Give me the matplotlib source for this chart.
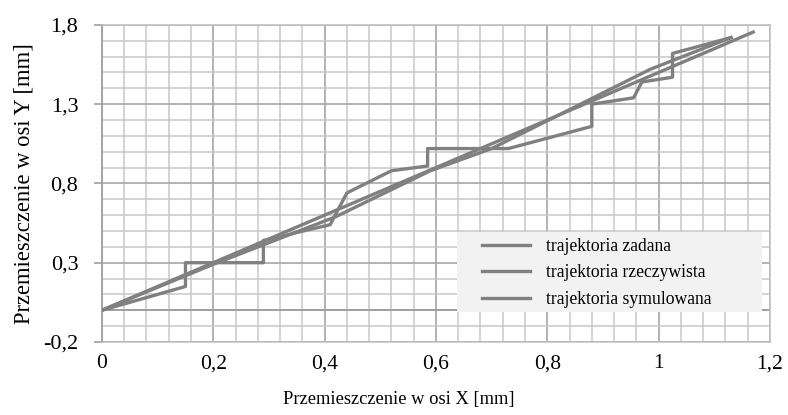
import numpy as np
import matplotlib.pyplot as plt
from matplotlib.ticker import MultipleLocator
from matplotlib.patches import Rectangle

plt.rcParams['font.family'] = ['Liberation Serif', 'DejaVu Serif']

# trajektoria zadana (prosta)
x_zad = [0, 1.17]
y_zad = [0, 1.755]

# trajektoria rzeczywista (schodkowa)
x_rze = [0, 0.15, 0.15, 0.29, 0.29, 0.41, 0.44, 0.52, 0.585, 0.585, 0.73,
         0.88, 0.88, 0.955, 0.97, 1.025, 1.025, 1.13]
y_rze = [0, 0.15, 0.30, 0.30, 0.44, 0.54, 0.74, 0.88, 0.91, 1.02, 1.02,
         1.16, 1.30, 1.34, 1.44, 1.47, 1.62, 1.72]

# trajektoria symulowana
x_sym = [0, 0.2, 0.42, 0.59, 0.7, 0.985, 1.13]
y_sym = [0, 0.29, 0.59, 0.88, 1.02, 1.52, 1.72]

x_ticks = [0, 0.2, 0.4, 0.6, 0.8, 1.0, 1.2]
x_labels = ['0', '0,2', '0,4', '0,6', '0,8', '1', '1,2']
y_ticks = [-0.2, 0.3, 0.8, 1.3, 1.8]
y_labels = ['-0,2', '0,3', '0,8', '1,3', '1,8']

fig = plt.figure(figsize=(7.88, 4.15), dpi=100)
ax = fig.add_axes([0.1294, 0.176, 0.8477, 0.764])

ax.set_xlim(0, 1.2)
ax.set_ylim(-0.2, 1.8)

# siatka
ax.xaxis.set_minor_locator(MultipleLocator(0.04))
ax.yaxis.set_minor_locator(MultipleLocator(0.1))
ax.set_xticks(x_ticks)
ax.set_xticklabels(x_labels)
ax.set_yticks(y_ticks)
ax.set_yticklabels(y_labels)
ax.grid(which='minor', color='#c8c8c8', lw=1.1)
ax.grid(which='major', color='#a6a6a6', lw=1.2)
ax.set_axisbelow(True)
ax.axhline(0, color='#a0a0a0', lw=1.4, zorder=1)

for s in ['top', 'right', 'bottom']:
    ax.spines[s].set_color('#bfbfbf')
    ax.spines[s].set_linewidth(1.1)
ax.spines['left'].set_color('#a0a0a0')
ax.spines['left'].set_linewidth(1.3)

ax.tick_params(axis='y', which='major', length=6, color='#a0a0a0', width=1.2,
               labelsize=16, pad=11)
ax.tick_params(axis='x', which='major', length=0, labelsize=15.5, pad=9)
ax.tick_params(which='minor', length=0)

lc = '#808080'
ax.plot(x_zad, y_zad, color=lc, lw=2.4, label='trajektoria zadana', zorder=3)
ax.plot(x_rze, y_rze, color=lc, lw=2.4, label='trajektoria rzeczywista', zorder=3)
ax.plot(x_sym, y_sym, color=lc, lw=2.4, label='trajektoria symulowana', zorder=3)

ax.set_xlabel('Przemieszczenie w osi X [mm]', fontsize=13.3)
ax.xaxis.set_label_coords(0.445, -0.155)
ax.set_ylabel('Przemieszczenie w osi Y [mm]', fontsize=16.3, labelpad=6)

# tło legendy
ax.add_patch(Rectangle((0.531, 0.095), 0.457, 0.253, transform=ax.transAxes,
                       facecolor='#f2f2f2', edgecolor='none', zorder=4))
leg = ax.legend(loc='center left', bbox_to_anchor=(0.569, 0.218),
                fontsize=12.7, frameon=False,
                handlelength=2.7, handletextpad=0.95, labelspacing=0.53,
                borderpad=0, borderaxespad=0)
leg.set_zorder(5)

fig.savefig('out.png', dpi=100)
